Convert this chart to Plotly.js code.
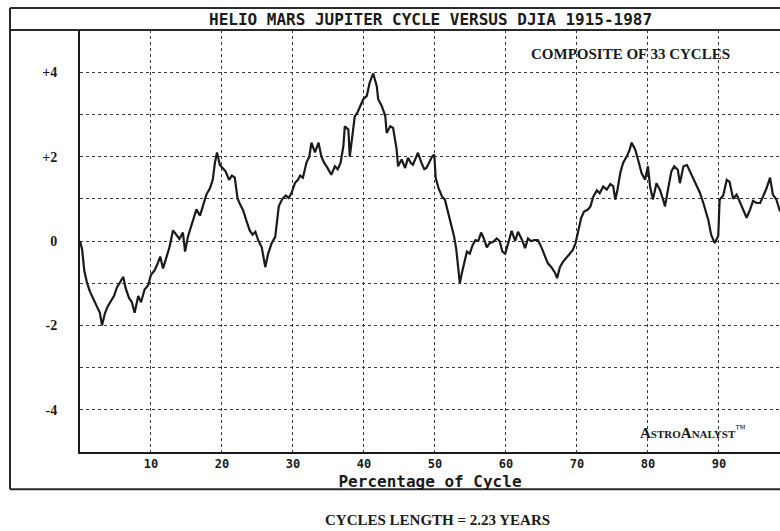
<!DOCTYPE html>
<html>
<head>
<meta charset="utf-8">
<script src="https://cdn.plot.ly/plotly-3.0.1.min.js"></script>
<style>
  html, body { margin: 0; padding: 0; background: #fff; overflow: hidden; }
  #chart { width: 780px; height: 531px; }
</style>
</head>
<body>
<div id="chart"></div>
<script>
// Composite Helio Mars-Jupiter cycle vs DJIA, percentage of cycle (x) and deviation (y)
const cyclePct = [
  0.0, 0.3, 0.6, 1.0, 1.4, 1.8, 2.3, 2.8, 3.1, 3.5, 3.9, 4.3, 4.8, 5.2, 5.7, 6.1, 6.4, 6.9, 7.3, 7.7,
  8.2, 8.6, 9.1, 9.6, 10.0, 10.5, 10.9, 11.3, 11.7, 12.1, 12.6, 13.1, 13.5, 14.0, 14.5, 14.8, 15.2, 15.6, 16.1, 16.4,
  16.9, 17.3, 17.8, 18.3, 18.7, 19.0, 19.3, 19.7, 20.1, 20.5, 21.0, 21.4, 21.8, 22.2, 22.6, 23.0, 23.4, 23.9, 24.3, 24.7,
  25.1, 25.6, 26.1, 26.5, 27.0, 27.5, 28.0, 28.5, 29.0, 29.4, 29.8, 30.3, 30.7, 31.0, 31.4, 31.9, 32.3, 32.6, 33.1, 33.6,
  34.0, 34.4, 34.8, 35.4, 35.9, 36.3, 36.7, 37.1, 37.3, 37.8, 38.0, 38.3, 38.7, 39.1, 39.5, 39.9, 40.4, 40.8, 41.3, 41.8,
  42.0, 42.5, 43.0, 43.2, 43.7, 44.1, 44.6, 44.8, 45.3, 45.8, 46.2, 46.6, 46.9, 47.3, 47.6, 48.1, 48.5, 48.8, 49.2, 49.6,
  49.9, 50.1, 50.5, 51.0, 51.4, 51.9, 52.3, 52.7, 53.0, 53.3, 53.5, 53.8, 54.1, 54.5, 54.9, 55.3, 55.7, 56.1, 56.5, 56.9,
  57.3, 57.7, 58.2, 58.7, 59.1, 59.5, 59.9, 60.3, 60.8, 61.3, 61.7, 62.2, 62.7, 63.1, 63.5, 64.0, 64.5, 65.0, 65.4, 65.9,
  66.4, 66.9, 67.2, 67.6, 68.0, 68.4, 68.9, 69.4, 69.8, 70.2, 70.6, 71.0, 71.5, 71.9, 72.3, 72.8, 73.2, 73.7, 74.2, 74.7,
  75.1, 75.4, 75.7, 76.1, 76.5, 77.0, 77.4, 77.7, 78.2, 78.6, 79.1, 79.6, 80.0, 80.3, 80.7, 81.2, 81.7, 82.1, 82.4, 82.9,
  83.3, 83.7, 84.2, 84.5, 85.0, 85.5, 86.0, 86.4, 86.8, 87.3, 87.8, 88.2, 88.5, 88.9, 89.4, 89.9, 90.1, 90.6, 91.1, 91.5,
  92.0, 92.5, 92.9, 93.4, 93.9, 94.4, 94.8, 95.3, 95.8, 96.2, 96.7, 97.2, 97.6, 98.1, 98.6
];
const composite = [
  0.0, -0.2, -0.7, -1.0, -1.2, -1.35, -1.55, -1.7, -2.0, -1.72, -1.55, -1.45, -1.3, -1.1, -0.95, -0.85, -1.1, -1.35, -1.45, -1.7,
  -1.3, -1.45, -1.15, -1.05, -0.8, -0.7, -0.55, -0.37, -0.65, -0.45, -0.15, 0.25, 0.15, 0.05, 0.2, -0.25, 0.1, 0.3, 0.55, 0.75,
  0.6, 0.85, 1.1, 1.25, 1.45, 1.85, 2.1, 1.8, 1.72, 1.65, 1.45, 1.55, 1.5, 1.0, 0.85, 0.72, 0.5, 0.25, 0.15, 0.22,
  0.02, -0.15, -0.62, -0.3, -0.05, 0.1, 0.82, 1.0, 1.08, 1.02, 1.14, 1.38, 1.45, 1.55, 1.5, 1.86, 2.0, 2.33, 2.1, 2.33,
  2.0, 1.85, 1.75, 1.57, 1.77, 1.7, 1.85, 2.25, 2.72, 2.64, 2.0, 2.45, 2.95, 3.05, 3.2, 3.36, 3.44, 3.75, 3.97, 3.67,
  3.36, 3.2, 2.96, 2.56, 2.72, 2.68, 2.17, 1.77, 1.93, 1.73, 1.97, 1.85, 1.81, 1.95, 2.09, 1.85, 1.7, 1.73, 1.85, 2.0,
  2.05, 1.5, 1.25, 1.05, 0.98, 0.66, 0.42, 0.1, -0.2, -0.6, -1.0, -0.75, -0.5, -0.25, -0.3, -0.1, 0.02, 0.0, 0.2, 0.05,
  -0.15, -0.05, -0.02, 0.06, 0.0, -0.25, -0.3, -0.06, 0.24, 0.0, 0.22, 0.05, -0.17, 0.06, 0.0, 0.02, 0.02, -0.15, -0.3, -0.53,
  -0.62, -0.75, -0.88, -0.62, -0.5, -0.42, -0.3, -0.22, -0.05, 0.26, 0.55, 0.7, 0.74, 0.82, 1.05, 1.2, 1.13, 1.29, 1.22, 1.35,
  1.3, 0.98, 1.21, 1.61, 1.85, 2.0, 2.15, 2.33, 2.17, 1.93, 1.61, 1.45, 1.77, 1.29, 0.98, 1.37, 1.21, 1.0, 0.82, 1.29,
  1.65, 1.77, 1.69, 1.37, 1.77, 1.8, 1.61, 1.45, 1.3, 1.15, 0.9, 0.7, 0.5, 0.15, -0.05, 0.12, 0.98, 1.08, 1.45, 1.4,
  1.0, 1.1, 0.95, 0.74, 0.55, 0.75, 0.95, 0.9, 0.9, 1.05, 1.25, 1.5, 1.1, 0.98, 0.7
];

const xTickVals = [10, 20, 30, 40, 50, 60, 70, 80, 90];
const yTickVals = [-4, -2, 0, 2, 4];
const yTickText = ['-4', '-2', '0', '+2', '+4'];

const ink = '#1a1a1a';
const gridInk = '#3a3a3a';
const monoFont = 'DejaVu Sans Mono, monospace';
const serifFont = 'Liberation Serif, Times New Roman, serif';

const trace = {
  x: cyclePct,
  y: composite,
  type: 'scatter',
  mode: 'lines',
  line: { color: ink, width: 2.2 },
  hoverinfo: 'x+y'
};

// outer frame and title rule, in paper units relative to the plot area
const frameLine = { color: '#2a2a2a', width: 2 };
const shapes = [
  { type: 'line', xref: 'paper', yref: 'paper', x0: -0.1, x1: 1.0, y0: 1.052, y1: 1.052, line: frameLine },
  { type: 'line', xref: 'paper', yref: 'paper', x0: -0.1, x1: -0.1, y0: 1.052, y1: -0.088, line: frameLine },
  { type: 'line', xref: 'paper', yref: 'paper', x0: -0.1, x1: 1.0, y0: -0.088, y1: -0.088, line: frameLine },
  { type: 'line', xref: 'paper', yref: 'paper', x0: -0.1, x1: 1.0, y0: 1.0, y1: 1.0, line: frameLine }
];

const annotations = [
  {
    text: '<b>HELIO MARS JUPITER CYCLE VERSUS DJIA 1915-1987</b>',
    xref: 'paper', yref: 'paper', x: 0.5, y: 1.026, showarrow: false,
    xanchor: 'center', yanchor: 'middle',
    font: { family: monoFont, size: 16, color: ink }
  },
  {
    text: '<b>COMPOSITE OF 33 CYCLES</b>',
    xref: 'paper', yref: 'paper', x: 0.787, y: 0.943, showarrow: false,
    xanchor: 'center', yanchor: 'middle',
    font: { family: serifFont, size: 15, color: ink }
  },
  {
    text: '<b>A<span style="font-size:11px">STRO</span>A<span style="font-size:11px">NALYST</span></b><sup>™</sup>',
    xref: 'paper', yref: 'paper', x: 0.876, y: 0.047, showarrow: false,
    xanchor: 'center', yanchor: 'middle',
    font: { family: serifFont, size: 15, color: ink }
  },
  {
    text: '<b>CYCLES LENGTH = 2.23 YEARS</b>',
    xref: 'paper', yref: 'paper', x: 0.51, y: -0.161, showarrow: false,
    xanchor: 'center', yanchor: 'middle',
    font: { family: serifFont, size: 15, color: ink }
  }
];

const layout = {
  width: 780,
  height: 531,
  margin: { l: 80, r: 0, t: 30, b: 79 },
  paper_bgcolor: '#ffffff',
  plot_bgcolor: '#ffffff',
  showlegend: false,
  xaxis: {
    range: [0, 98.6],
    tickvals: xTickVals,
    ticktext: xTickVals.map(String),
    ticks: '',
    showgrid: true,
    gridcolor: gridInk,
    griddash: 'dot',
    gridwidth: 1,
    zeroline: false,
    showline: true,
    linecolor: ink,
    linewidth: 2,
    tickfont: { family: monoFont, size: 12, color: ink, weight: 'bold' },
    title: {
      text: '<b>Percentage of Cycle</b>',
      font: { family: monoFont, size: 16, color: ink },
      standoff: 5
    },
    fixedrange: true
  },
  yaxis: {
    range: [-5, 5],
    tickvals: yTickVals,
    ticktext: yTickText,
    ticks: 'outside',
    ticklen: 18,
    tickcolor: 'rgba(0,0,0,0)',
    showgrid: true,
    gridcolor: gridInk,
    griddash: 'dot',
    gridwidth: 1,
    minor: {
      tickmode: 'linear',
      tick0: 0,
      dtick: 1,
      showgrid: true,
      gridcolor: gridInk,
      griddash: 'dot',
      gridwidth: 1,
      ticks: ''
    },
    zeroline: false,
    showline: true,
    linecolor: ink,
    linewidth: 2,
    tickfont: { family: serifFont, size: 14, color: ink, weight: 'bold' },
    fixedrange: true
  },
  shapes: shapes,
  annotations: annotations
};

Plotly.newPlot('chart', [trace], layout, { displayModeBar: false, staticPlot: true });
</script>
</body>
</html>
